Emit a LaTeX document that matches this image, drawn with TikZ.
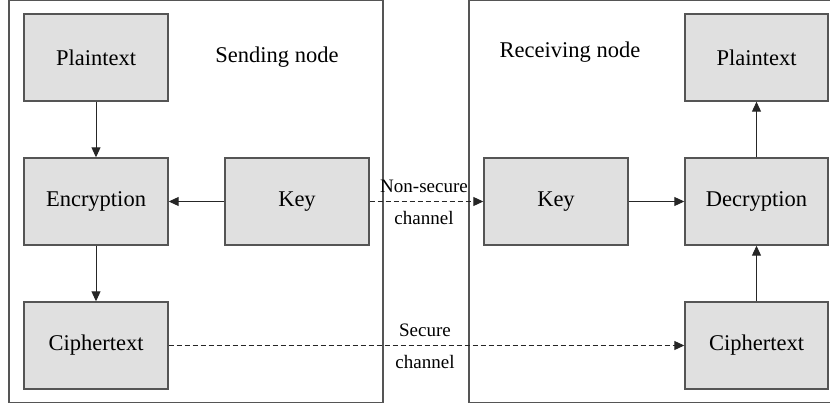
\documentclass[tikz,border=0pt]{standalone}
\usepackage{fontspec}
\setmainfont{Liberation Serif}
\usetikzlibrary{arrows.meta}
\definecolor{boxfill}{RGB}{224,224,224}
\definecolor{boxline}{RGB}{85,85,85}
\begin{document}
\begin{tikzpicture}[x=1pt,y=-1pt,
  blk/.style={draw=boxline, line width=1.4pt, fill=boxfill, minimum width=144pt, minimum height=87pt, inner sep=0pt, font=\fontsize{22.5}{26}\selectfont},
  lbl/.style={font=\fontsize{22.5}{26}\selectfont, inner sep=0pt},
  chl/.style={font=\fontsize{19}{22}\selectfont, inner sep=0pt},
  arr/.style={draw=black!85, line width=1pt, -{Triangle[length=10pt,width=9pt]}},
  darr/.style={arr, dash pattern=on 5pt off 3pt}]
\useasboundingbox (0,0) rectangle (830,406);
% outer frames
\draw[boxline, line width=1.4pt] (9,0.7) rectangle (383,402.5);
\draw[boxline, line width=1.4pt] (831,0.7) -| (469,402.5) -- (831,402.5);
% sending side
\node[blk] (pl) at (96,57.5) {Plaintext};
\node[blk] (en) at (96,201.5) {Encryption};
\node[blk] (cl) at (96,345.5) {Ciphertext};
\node[blk] (kl) at (297,201.5) {Key};
\node[lbl] (sn) at (277,57) {Sending node};
% receiving side
\node[blk, minimum width=143pt] (pr) at (756.5,57.5) {Plaintext};
\node[blk, minimum width=143pt] (de) at (756.5,201.5) {Decryption};
\node[blk, minimum width=143pt] (cr) at (756.5,345.5) {Ciphertext};
\node[blk] (kr) at (556,201.5) {Key};
\node[lbl] (rn) at (570,52) {Receiving node};
% channel labels
\node[chl] (ns) at (424,186) {Non-secure};
\node[chl] (c1) at (424,218) {channel};
\node[chl] (sc) at (425,330) {Secure};
\node[chl] (c2) at (425,362) {channel};
% connectors
\draw[arr] (pl) -- (en);
\draw[arr] (en) -- (cl);
\draw[arr] (kl) -- (en);
\draw[arr] (kr) -- (de);
\draw[arr] (de) -- (pr);
\draw[arr] (cr) -- (de);
\draw[darr] (kl) -- (kr);
\draw[darr] (cl) -- (cr);
\end{tikzpicture}
\end{document}
